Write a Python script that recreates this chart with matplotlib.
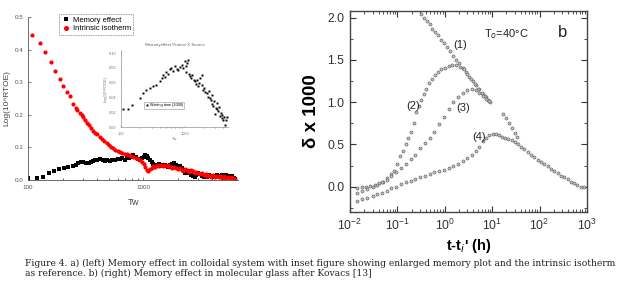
import matplotlib
matplotlib.use('Agg')
import matplotlib.pyplot as plt
from matplotlib.ticker import FixedLocator, NullFormatter, LogLocator

# ---- panel a: memory effect in colloidal system ----
mem_tw = [100, 120, 136, 153, 168, 186, 206, 224, 248, 262, 274, 288, 302, 318, 335, 350, 365, 383, 400, 423,
          445, 470, 490, 516, 540, 565, 600, 631, 660, 690, 721, 760, 790, 824, 860, 900, 942, 980, 1010, 1040,
          1077, 1110, 1150, 1190, 1230, 1280, 1330, 1380, 1430, 1480, 1540, 1600, 1660, 1720, 1790, 1860, 1930,
          2000, 2080, 2160, 2240, 2330, 2420, 2510, 2600, 2700, 2800, 2900, 3000, 3120, 3240, 3360, 3490, 3620,
          3760, 3900, 4050, 4200, 4360, 4530, 4700, 4880, 5070, 5260, 5460, 5670, 5890, 6110, 6350]
mem_val = [.005, .006, .010, .023, .029, .033, .036, .041, .044, .047, .051, .054, .056, .053, .051, .055, .058,
           .061, .062, .063, .060, .058, .061, .059, .062, .060, .064, .063, .068, .062, .071, .066, .070, .077,
           .072, .065, .061, .066, .072, .077, .075, .068, .060, .055, .050, .047, .044, .048, .045, .042, .046,
           .043, .040, .045, .050, .052, .046, .041, .044, .038, .030, .022, .020, .028, .016, .012, .010, .015,
           .022, .018, .012, .008, .012, .010, .015, .012, .009, .013, .016, .011, .008, .014, .010, .016, .012,
           .008, .013, .006, .004]

iso_tw = [109, 127, 141, 157, 172, 190, 203, 217, 232, 248, 259, 268, 280, 293, 303, 313, 324, 335, 352, 370,
          385, 400, 423, 440, 460, 483, 505, 528, 552, 575, 600, 631, 660, 690, 721, 750, 785, 824, 860, 900,
          942, 980, 1010, 1040, 1077, 1110, 1150, 1190, 1230, 1280, 1330, 1380, 1430, 1480, 1540, 1600, 1660,
          1720, 1790, 1860, 1930, 2000, 2080, 2160, 2240, 2330, 2420, 2510, 2600, 2700, 2800, 2900, 3000, 3120,
          3240, 3360, 3490, 3620, 3760, 3900, 4050, 4200, 4360, 4530, 4700, 4880, 5070, 5260, 5460, 5670, 5890,
          6110, 6350]
iso_val = [.444, .420, .392, .362, .335, .309, .287, .270, .258, .233, .222, .215, .207, .200, .192, .184, .176,
           .168, .160, .151, .145, .140, .133, .126, .119, .112, .106, .101, .097, .093, .089, .087, .083, .080,
           .079, .076, .074, .072, .068, .065, .061, .055, .048, .040, .032, .028, .033, .038, .042, .040, .045,
           .043, .047, .044, .046, .042, .045, .041, .038, .041, .036, .033, .037, .031, .028, .033, .030, .025,
           .031, .027, .020, .026, .022, .017, .023, .015, .019, .012, .016, .010, .014, .008, .012, .009, .013,
           .007, .011, .006, .009, .005, .008, .004, .003]

inset_tw = [106, 127, 147, 195, 220, 248, 280, 316, 357, 403, 430, 454, 480, 513, 545, 580, 615, 650, 696, 740,
            786, 830, 887, 940, 1000, 1030, 1060, 1100, 1130, 1170, 1220, 1270, 1320, 1380, 1440, 1500, 1560,
            1620, 1700, 1760, 1830, 1890, 1950, 2020, 2100, 2200, 2280, 2360, 2480, 2560, 2650, 2720, 2800, 2880,
            2980, 3060, 3160, 3260, 3360, 3480, 3600, 3700, 3790, 3900, 4020, 4150, 4270, 4400, 4540]
inset_val = [.024, .024, .030, .039, .046, .050, .053, .056, .057, .062, .066, .071, .068, .075, .072, .078, .080,
             .076, .082, .079, .077, .081, .084, .080, .089, .083, .075, .086, .091, .072, .069, .066, .070, .063,
             .062, .058, .064, .055, .060, .066, .071, .057, .050, .053, .047, .046, .041, .049, .039, .036, .043,
             .031, .028, .035, .017, .026, .032, .024, .021, .027, .015, .019, .012, .016, .009, .013, .003, .010,
             .014]

# ---- panel b: Kovacs memory effect ----
c1_t = [0.32, 0.37, 0.42, 0.48, 0.55, 0.63, 0.72, 0.83, 0.95, 1.1, 1.3, 1.5, 1.75, 2.0, 2.4, 2.8, 3.3, 3.9,
        4.6, 5.4, 6.3, 7.3, 8.5]
c1_d = [2.04, 2.00, 1.96, 1.92, 1.87, 1.83, 1.79, 1.74, 1.70, 1.65, 1.60, 1.55, 1.50, 1.46, 1.40, 1.36, 1.30,
        1.25, 1.20, 1.15, 1.10, 1.06, 1.01]
tail_t = [17, 19.5, 22.5, 26, 30, 34]
tail_d = [0.86, 0.81, 0.75, 0.69, 0.64, 0.59]

c2_t = [0.014, 0.018, 0.022, 0.027, 0.033, 0.040, 0.050, 0.060, 0.072, 0.085, 0.10, 0.115, 0.13, 0.15, 0.17,
        0.19, 0.22, 0.25, 0.28, 0.32, 0.36, 0.41, 0.47, 0.54, 0.62, 0.72, 0.85, 1.0, 1.2, 1.45, 1.75, 2.1, 2.5,
        3.0, 3.6, 4.3, 5.1, 6.0, 7.0, 8.2, 9.0]
c2_d = [-0.02, -0.01, 0.00, 0.01, 0.02, 0.04, 0.06, 0.10, 0.15, 0.19, 0.27, 0.36, 0.42, 0.50, 0.57, 0.65, 0.75,
        0.88, 0.95, 1.03, 1.10, 1.16, 1.23, 1.28, 1.32, 1.36, 1.39, 1.41, 1.43, 1.44, 1.44, 1.42, 1.39, 1.33,
        1.27, 1.21, 1.15, 1.11, 1.07, 1.03, 1.00]

c3_t = [0.014, 0.018, 0.023, 0.03, 0.038, 0.048, 0.06, 0.075, 0.095, 0.12, 0.15, 0.19, 0.24, 0.30, 0.38, 0.48,
        0.6, 0.75, 0.95, 1.2, 1.5, 1.9, 2.4, 3.0, 3.7, 4.5, 5.4, 6.4, 7.5, 8.5]
c3_d = [-0.07, -0.05, -0.03, -0.01, 0.02, 0.05, 0.08, 0.12, 0.17, 0.22, 0.27, 0.33, 0.38, 0.46, 0.52, 0.58,
        0.65, 0.74, 0.83, 0.92, 1.00, 1.06, 1.11, 1.14, 1.15, 1.14, 1.11, 1.07, 1.04, 1.01]

c4_t = [0.014, 0.018, 0.023, 0.03, 0.038, 0.048, 0.06, 0.075, 0.095, 0.12, 0.15, 0.19, 0.24, 0.30, 0.38, 0.48,
        0.6, 0.75, 0.95, 1.2, 1.5, 1.9, 2.4, 3.0, 3.7, 4.5, 5.4, 6.4, 7.5, 8.8, 10.3, 12, 14, 16.5, 19, 22, 26,
        30, 35, 41, 48, 56, 66, 78, 92, 108, 127, 150, 175, 205, 240, 280, 330, 390, 460, 540, 630, 740, 860]
c4_d = [-0.17, -0.15, -0.13, -0.11, -0.09, -0.07, -0.05, -0.02, 0.00, 0.03, 0.05, 0.07, 0.09, 0.11, 0.13, 0.15,
        0.17, 0.19, 0.20, 0.22, 0.25, 0.27, 0.30, 0.34, 0.38, 0.42, 0.47, 0.54, 0.58, 0.61, 0.62, 0.62, 0.61,
        0.59, 0.57, 0.56, 0.55, 0.53, 0.50, 0.47, 0.44, 0.41, 0.38, 0.35, 0.32, 0.29, 0.27, 0.24, 0.21, 0.19,
        0.16, 0.13, 0.11, 0.09, 0.06, 0.04, 0.02, 0.00, -0.01]

curve_labels = ['(1)', '(2)', '(3)', '(4)']
label_pos = [(2.1, 1.68), (0.21, 0.96), (2.4, 0.93), (5.3, 0.59)]

caption = ("Figure 4. a) (left) Memory effect in colloidal system with inset figure showing enlarged memory plot "
           "and the intrinsic isotherm\n"
           "as reference. b) (right) Memory effect in molecular glass after Kovacs [13]")

plt.rcParams['font.family'] = ['Liberation Sans', 'DejaVu Sans']

fig = plt.figure(figsize=(6.25, 2.88), dpi=100)

# left main panel
ax = fig.add_axes([0.045, 0.375, 0.336, 0.566])
ax.plot(mem_tw, mem_val, 's', color='black', ms=2.8, mew=0, label='Memory effect')
ax.plot(iso_tw, iso_val, 'o', color='red', ms=3.0, mew=0, label='Intrinsic isotherm')
ax.set_xscale('log')
ax.set_xlim(100, 6700)
ax.set_ylim(0, 0.5)
ax.set_yticks([0.0, 0.1, 0.2, 0.3, 0.4, 0.5])
ax.set_xticks([100, 1000])
ax.set_xticklabels(['100', '1000'])
ax.xaxis.set_minor_formatter(NullFormatter())
for s in ['top', 'right']:
    ax.spines[s].set_visible(False)
for s in ['left', 'bottom']:
    ax.spines[s].set_color('#555555')
    ax.spines[s].set_linewidth(0.6)
ax.tick_params(labelsize=4.5, colors='#555555', length=2, width=0.5, direction='in')
ax.tick_params(which='minor', length=1.2, width=0.4, direction='in')
ax.set_xlabel('Tw', fontsize=6.5, color='#444444', labelpad=6)
ax.set_ylabel('Log(10^RTOE)', fontsize=6, color='#444444', labelpad=3)
leg = ax.legend(loc='upper left', bbox_to_anchor=(0.13, 1.04), fontsize=5.5, frameon=True,
                fancybox=False, edgecolor='#555555', handletextpad=0.3, borderpad=0.3,
                labelspacing=0.15, handlelength=1.2, markerscale=1.2)
leg.get_frame().set_linewidth(0.6)
leg.get_frame().set_linestyle((0, (1, 1)))

# inset
ax_in = fig.add_axes([0.194, 0.559, 0.171, 0.267])
ax_in.plot(inset_tw, inset_val, 's', color='black', ms=1.4, mew=0, label='Waiting time (1000)')
ax_in.set_xscale('log')
ax_in.set_xlim(100, 4800)
ax_in.set_ylim(0, 0.104)
ax_in.set_yticks([0.0, 0.02, 0.04, 0.06, 0.08, 0.10])
ax_in.set_xticks([100, 1000])
ax_in.set_xticklabels(['100', '1000'])
ax_in.xaxis.set_minor_formatter(NullFormatter())
for s in ['top', 'right']:
    ax_in.spines[s].set_visible(False)
for s in ['left', 'bottom']:
    ax_in.spines[s].set_color('#777777')
    ax_in.spines[s].set_linewidth(0.4)
ax_in.tick_params(labelsize=2.8, colors='#777777', length=1, width=0.3, direction='in')
ax_in.tick_params(which='minor', length=0.7, width=0.3)
ax_in.set_title('Memoryeffect Protein X Source', fontsize=3.2, color='#666666', pad=3)
ax_in.set_xlabel('Tw', fontsize=3, color='#777777', labelpad=1)
ax_in.set_ylabel('Log(10^RTOE)', fontsize=2.8, color='#777777', labelpad=1)
leg2 = ax_in.legend(loc='center', bbox_to_anchor=(0.4, 0.28), fontsize=2.8, frameon=True,
                    fancybox=False, edgecolor='#777777', handletextpad=0.3, borderpad=0.3, handlelength=1)
leg2.get_frame().set_linewidth(0.4)

# right panel
bx = fig.add_axes([0.56, 0.264, 0.379, 0.698])
mk = dict(marker='o', ls='none', ms=2.2, mfc='#c4c4c4', mec='#5e5e5e', mew=0.45)
bx.plot(c1_t, c1_d, **mk)
bx.plot(tail_t, tail_d, **mk)
bx.plot(c2_t, c2_d, **mk)
bx.plot(c3_t, c3_d, **mk)
bx.plot(c4_t, c4_d, **mk)
bx.set_xscale('log')
bx.set_xlim(0.01, 1000)
bx.set_ylim(-0.3, 2.08)
bx.set_yticks([0.0, 0.5, 1.0, 1.5, 2.0])
bx.yaxis.set_minor_locator(FixedLocator([-0.25, 0.25, 0.75, 1.25, 1.75]))
bx.xaxis.set_major_locator(LogLocator(base=10, numticks=10))
bx.xaxis.set_minor_locator(LogLocator(base=10, subs=range(2, 10), numticks=20))
bx.xaxis.set_minor_formatter(NullFormatter())
for s in bx.spines.values():
    s.set_color('#444444')
    s.set_linewidth(1.0)
bx.tick_params(which='both', direction='in', top=True, right=True, colors='#333333', labelsize=8.8)
bx.tick_params(which='major', length=4, width=0.8, pad=4)
bx.tick_params(which='minor', length=2, width=0.6)
bx.set_xlabel("t-t$_i$' (h)", fontsize=10.5, fontweight='bold', labelpad=3)
bx.set_ylabel('\u03b4 x 1000', fontsize=13.5, fontweight='bold', labelpad=5)
for lab, (px, py) in zip(curve_labels, label_pos):
    bx.text(px, py, lab, fontsize=8, ha='center', va='center', color='#222222')
bx.text(20, 1.8, 'T$_o$=40\u00b0C', fontsize=8, ha='center', va='center', color='#222222')
bx.text(300, 1.82, 'b', fontsize=12, ha='center', va='center', color='#222222')

# caption
fig.text(0.04, 0.068, caption, fontsize=6.6, family='DejaVu Serif', ha='left', va='center',
         linespacing=1.15, color='#222222')

fig.savefig('out.png', dpi=100)
